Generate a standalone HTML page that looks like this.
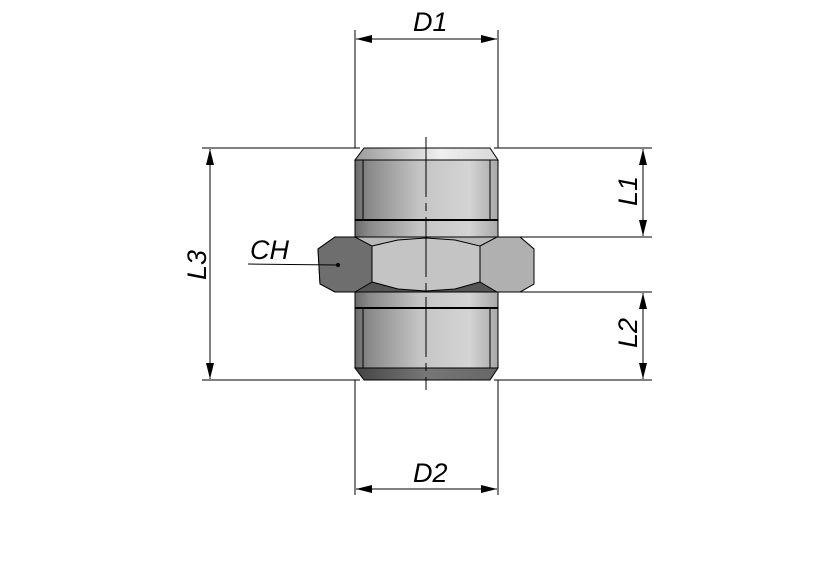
<!DOCTYPE html>
<html><head><style>body{margin:0;background:#fff}svg{display:block}</style></head><body>
<svg width="830" height="565" viewBox="0 0 830 565" xmlns="http://www.w3.org/2000/svg">
<defs>
<linearGradient id="cyl" x1="0" x2="1" y1="0" y2="0">
<stop offset="0" stop-color="#6a6a6a"/><stop offset="0.1" stop-color="#8a8a8a"/><stop offset="0.45" stop-color="#c4c4c4"/><stop offset="0.8" stop-color="#d4d4d4"/><stop offset="1" stop-color="#a8a8a8"/>
</linearGradient>
<linearGradient id="topch" x1="0" x2="1"><stop offset="0" stop-color="#9a9a9a"/><stop offset="0.6" stop-color="#f0f0f0"/><stop offset="1" stop-color="#d8d8d8"/></linearGradient>
<linearGradient id="botch" x1="0" x2="1"><stop offset="0" stop-color="#444"/><stop offset="0.5" stop-color="#777"/><stop offset="1" stop-color="#666"/></linearGradient>
<linearGradient id="hexbg" x1="0" x2="0" y1="0" y2="1"><stop offset="0.5" stop-color="#b8b8b8"/><stop offset="0.5" stop-color="#555"/></linearGradient>
</defs>
<g stroke="#000" stroke-width="1" fill="none">
<line x1="355" y1="30" x2="355" y2="148"/><line x1="498" y1="30" x2="498" y2="148"/>
<line x1="355" y1="380" x2="355" y2="495"/><line x1="498" y1="380" x2="498" y2="495"/>
<line x1="356" y1="39" x2="497" y2="39"/><line x1="356" y1="489" x2="497" y2="489"/>
<line x1="202" y1="148" x2="360" y2="148"/><line x1="202" y1="380" x2="360" y2="380"/>
<line x1="494" y1="148" x2="652" y2="148"/><line x1="520" y1="237" x2="652" y2="237"/>
<line x1="520" y1="292" x2="652" y2="292"/><line x1="494" y1="380" x2="652" y2="380"/>
<line x1="210" y1="149" x2="210" y2="379"/>
<line x1="643" y1="149" x2="643" y2="236"/><line x1="643" y1="293" x2="643" y2="379"/>
</g>
<g fill="#000">
<polygon points="356,39 372,35 372,43"/><polygon points="497,39 481,35 481,43"/>
<polygon points="356,489 372,485 372,493"/><polygon points="497,489 481,485 481,493"/>
<polygon points="210,149 206,165 214,165"/><polygon points="210,379 206,363 214,363"/>
<polygon points="643,149 639,165 647,165"/><polygon points="643,236 639,220 647,220"/>
<polygon points="643,293 639,309 647,309"/><polygon points="643,379 639,363 647,363"/>
</g>
<rect x="355" y="160" width="143" height="208" fill="url(#cyl)" stroke="#000"/>
<polygon points="364,148 490,148 498,160 355,160" fill="url(#topch)" stroke="#000"/>
<polygon points="355,368 498,368 490,380 364,380" fill="url(#botch)" stroke="#000"/>
<line x1="363" y1="160" x2="363" y2="220" stroke="#000"/><line x1="490" y1="160" x2="490" y2="220" stroke="#000"/>
<line x1="363" y1="308" x2="363" y2="368" stroke="#000"/><line x1="490" y1="308" x2="490" y2="368" stroke="#000"/>
<line x1="355" y1="220" x2="498" y2="220" stroke="#000" stroke-width="2"/>
<line x1="355" y1="308" x2="498" y2="308" stroke="#000" stroke-width="2"/>
<!-- hex -->
<polygon points="335,237 520,237 534,249 534,284 520,292 335,292 320,284 318,249" fill="url(#hexbg)" stroke="#000"/>
<polygon points="335,237 355,237 372,246 372,282 355,292 335,292 320,284 318,249" fill="#6e6e6e" stroke="#000"/>
<polygon points="372,246 398,240 426,238 455,240 480,246 480,282 455,289 426,291 398,289 372,282" fill="#c4c4c4" stroke="#000"/>
<polygon points="480,246 497,237 520,237 534,249 534,284 520,292 497,292 480,282" fill="#b0b0b0" stroke="#000"/>
<line x1="426" y1="137" x2="426" y2="390" stroke="#000" stroke-dasharray="60,6,8,6"/>
<line x1="248" y1="264" x2="338" y2="265" stroke="#000"/>
<circle cx="338" cy="265" r="2" fill="#000"/>
<g font-family="Liberation Sans Narrow, Liberation Sans, sans-serif" font-style="italic" font-size="27" fill="#000">
<text x="413" y="31">D1</text><text x="413" y="482">D2</text>
<text x="250" y="259">CH</text>
<text transform="translate(206,280) rotate(-90)">L3</text>
<text transform="translate(637,206) rotate(-90)">L1</text>
<text transform="translate(637,348) rotate(-90)">L2</text>
</g>
</svg>
</body></html>
